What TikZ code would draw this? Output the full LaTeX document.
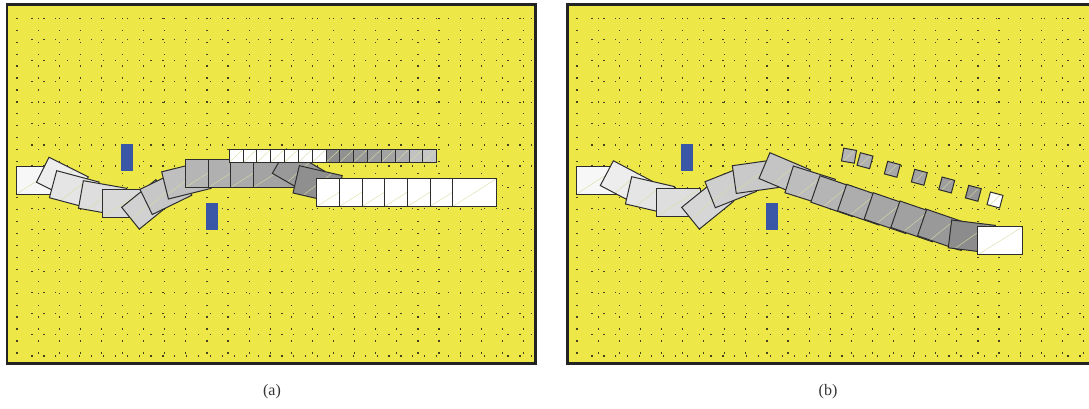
\documentclass[tikz,border=0pt]{standalone}
\usepackage{fontspec}
\setmainfont{Liberation Serif}
\definecolor{bgy}{RGB}{237,231,72}
\definecolor{dotc}{RGB}{70,66,30}
\definecolor{blu}{RGB}{58,86,166}
\definecolor{segline}{RGB}{45,45,45}
\definecolor{faintc}{RGB}{220,220,165}
\definecolor{framec}{RGB}{35,35,35}
\begin{document}
\begin{tikzpicture}[x=1pt,y=-1pt,
  seg/.style={draw=segline, line width=1pt, minimum width=44pt, minimum height=28pt,
    inner sep=0pt, outer sep=0pt,
    path picture={\draw[faintc,line width=0.4pt] (path picture bounding box.south west) -- (path picture bounding box.north east);}},
  sq/.style={seg, minimum width=13.8pt, minimum height=13pt},
  obst/.style={fill=blu, draw=none, minimum width=12pt, minimum height=26.5pt, inner sep=0pt, outer sep=0pt},
  frm/.style={draw=framec, line width=2.5pt},
  dotm/.style={fill=dotc},
  lab/.style={font=\fontsize{16}{18}\selectfont, text=black!80, inner sep=0pt}]
\useasboundingbox (0,0) rectangle (1089,409);

% ---------- panels background ----------
\fill[bgy] (7,4.5) rectangle (535.5,363.5);
\fill[bgy] (567.5,4.5) rectangle (1095,363.5);

% ---------- dot grids ----------
\foreach \o in {0,560}{
  \foreach \i in {0,...,24}{
    \foreach \j in {0,...,28}{
      \fill[dotm] ({\o+17+21.1*\i-0.6},{18.3+11.95*\j-0.6}) rectangle ++(1.2,1.2);
    }
  }
  \foreach \i in {0,...,42}{
    \foreach \j in {0,...,16}{
      \fill[dotm] ({\o+32+11.9*\i-0.6},{18.3+21.1*\j-0.6}) rectangle ++(1.2,1.2);
    }
  }
}

% ---------- obstacles ----------
\node[obst] (oa1) at (127,157.3) {};
\node[obst] (oa2) at (212,216.5) {};
\node[obst] (ob1) at (687,157.3) {};
\node[obst] (ob2) at (772,216.5) {};

% ---------- panel (a) chain ----------
\node[seg, fill=black!3]                  (a1)  at (38.3,180)   {};
\node[seg, fill=black!7,  rotate=-26.6]   (a2)  at (62.4,179.6) {};
\node[seg, fill=black!10, rotate=-15]     (a3)  at (74.3,189.9) {};
\node[seg, fill=black!13, rotate=-10]     (a4)  at (102.6,198.3){};
\node[seg, fill=black!15]                 (a5)  at (124.3,203.3){};
\node[seg, fill=black!18, rotate=39]      (a6)  at (147.6,204.4){};
\node[seg, fill=black!22, rotate=26]      (a7)  at (165.9,192.3){};
\node[seg, fill=black!25, rotate=14]      (a8)  at (186.4,180.1){};
\node[seg, fill=black!29]                 (a9)  at (207.3,173.5){};
\node[seg, fill=black!31]                 (a10) at (230.3,173.5){};
\node[seg, fill=black!33]                 (a11) at (252.7,173.5){};
\node[seg, fill=black!36]                 (a12) at (275.3,173.5){};
\node[seg, fill=black!40, rotate=-30]     (a13) at (298.4,172.2){};
\node[seg, fill=black!44, rotate=-13]     (a14) at (317.6,184.3){};
\foreach \k in {0,...,6}{
  \node[seg, fill=white] (aw\k) at ({338.7+22.67*\k},192.5) {};
}
% small squares row (a)
\foreach \k/\c in {0/0,1/0,2/0,3/0,4/0,5/0,6/0,7/45,8/43,9/41,10/39,11/36,12/32,13/24,14/22}{
  \node[sq, fill=black!\c] (as\k) at ({236.2+13.83*\k},155.8) {};
}

% ---------- panel (b) chain ----------
\node[seg, fill=black!3]                  (b1)  at (598.3,180)  {};
\node[seg, fill=black!7,  rotate=-27.8]   (b2)  at (626.3,183.4){};
\node[seg, fill=black!10, rotate=-13]     (b3)  at (650,195.3)  {};
\node[seg, fill=black!13]                 (b4)  at (678.7,202.5){};
\node[seg, fill=black!16, rotate=39]      (b5)  at (707.6,204.4){};
\node[seg, fill=black!19, rotate=21.7]    (b6)  at (730.6,186.6){};
\node[seg, fill=black!21, rotate=8]       (b7)  at (756.1,176.5){};
\node[seg, fill=black!23, rotate=-23]     (b8)  at (784.7,174.2){};
\node[seg, fill=black!26, rotate=-17.5]   (b9)  at (810.1,186)  {};
\node[seg, fill=black!29, rotate=-19]     (b10) at (836.2,196.1){};
\node[seg, fill=black!32, rotate=-19]     (b11) at (862.9,204.7){};
\node[seg, fill=black!35, rotate=-19]     (b12) at (889.5,213.1){};
\node[seg, fill=black!37, rotate=-19]     (b13) at (916.2,221.4){};
\node[seg, fill=black!40, rotate=-19]     (b14) at (942.9,229.7){};
\node[seg, fill=black!45, rotate=-7]      (b15) at (971.8,236.6){};
\node[seg, fill=white, minimum width=45pt](b16) at (1000.2,240.8){};
% small squares (b)
\node[sq, fill=black!29, rotate=-10, minimum width=13pt] (bs1) at (849,155.7) {};
\node[sq, fill=black!31, rotate=-15, minimum width=13pt] (bs2) at (865,160.7) {};
\node[sq, fill=black!34, rotate=-15, minimum width=13pt] (bs3) at (892.3,169.3) {};
\node[sq, fill=black!36, rotate=-15, minimum width=13pt] (bs4) at (919.3,177.3) {};
\node[sq, fill=black!38, rotate=-15, minimum width=13pt] (bs5) at (946.7,185) {};
\node[sq, fill=black!41, rotate=-15, minimum width=13pt] (bs6) at (973.3,193.3) {};
\node[sq, fill=white,    rotate=-15, minimum width=13pt] (bs7) at (995,200) {};

% ---------- frames ----------
\draw[frm] (7,4.5) rectangle (535.5,363.5);
\draw[frm] (567.5,4.5) rectangle (1095,363.5);

% ---------- labels ----------
\node[lab] (la) at (272,392) {(a)};
\node[lab] (lb) at (828,392) {(b)};
\end{tikzpicture}
\end{document}
